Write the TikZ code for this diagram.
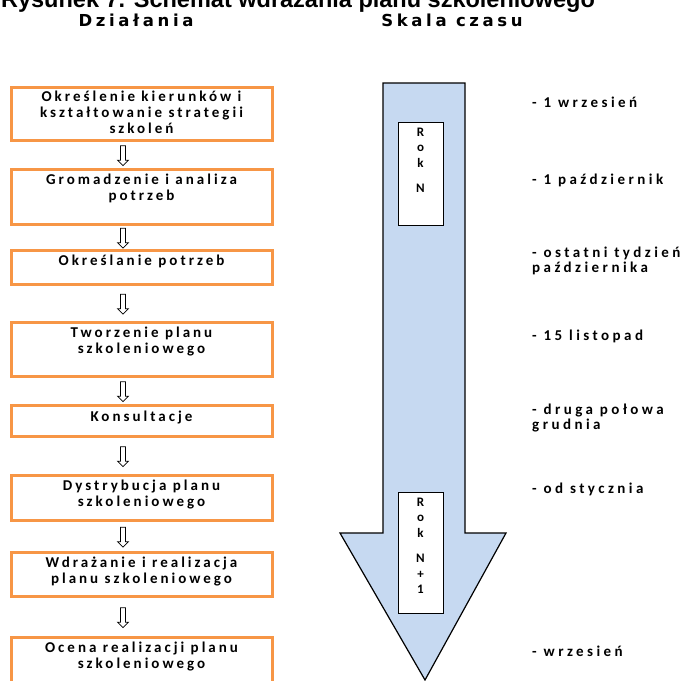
\documentclass[tikz,border=0pt]{standalone}
\usepackage{fontspec}
\setmainfont{Carlito}
\newfontfamily\boxfont[LetterSpace=20]{Carlito}
\newfontfamily\datefont[LetterSpace=23]{Carlito}
\newfontfamily\headfont[LetterSpace=22]{DejaVu Sans}
\newfontfamily\titlefont{Liberation Sans}
\usetikzlibrary{positioning,shapes.arrows,calc}
\definecolor{boxorange}{HTML}{F79646}
\definecolor{timeblue}{HTML}{C6D9F1}
\begin{document}
\begin{tikzpicture}[x=1pt,y=-1pt,
		box/.style={draw=boxorange,line width=3pt,fill=white,minimum width=261pt,inner sep=0},
		txt/.style={align=center,inner sep=0,font=\boxfont\bfseries\fontsize{15}{16}\selectfont},
		down/.style={single arrow,draw,line width=0.7pt,shape border rotate=270,inner sep=2pt,
			minimum height=20pt,minimum width=11pt,single arrow head extend=3pt},
		date/.style={align=left,anchor=north west,inner sep=0,font=\datefont\bfseries\fontsize{15}{15}\selectfont},
		rok/.style={draw,line width=1pt,fill=white,minimum width=45pt,inner sep=0},
		letters/.style={align=center,inner sep=0,font=\boxfont\bfseries\fontsize{13}{15.5}\selectfont}]
		\useasboundingbox (0,0) rectangle (682,680);
		\node[anchor=base,inner sep=0,font=\titlefont\bfseries\fontsize{23.5}{26}\selectfont] (title) at (298,7) {Rysunek 7. Schemat wdrażania planu szkoleniowego};
		\node[anchor=base,inner sep=0,font=\headfont\bfseries\fontsize{16.5}{18}\selectfont] (dz) at (136,26) {Działania};
		\node[anchor=base,inner sep=0,font=\headfont\bfseries\fontsize{16.5}{18}\selectfont] (sk) at (452,26) {Skala czasu};
		% działania
		\node[box,minimum height=53pt] (b1) at (141.5,113.5) {};
		\node[box,minimum height=55pt] (b2) at (141.5,196.5) {};
		\node[box,minimum height=34pt] (b3) at (141.5,267) {};
		\node[box,minimum height=54pt] (b4) at (141.5,349) {};
		\node[box,minimum height=31pt] (b5) at (141.5,420.5) {};
		\node[box,minimum height=45pt] (b6) at (141.5,497.5) {};
		\node[box,minimum height=44pt] (b7) at (141.5,574) {};
		\node[box,minimum height=53pt] (b8) at (141.5,663.5) {};
		\node[txt,below=5pt of b1.north] (t1) {Określenie kierunków i\\kształtowanie strategii\\szkoleń};
		\node[txt,below=6pt of b2.north] (t2) {Gromadzenie i analiza\\potrzeb};
		\node[txt,below=6pt of b3.north] (t3) {Określanie potrzeb};
		\node[txt,below=6pt of b4.north] (t4) {Tworzenie planu\\szkoleniowego};
		\node[txt,below=7pt of b5.north] (t5) {Konsultacje};
		\node[txt,below=6pt of b6.north] (t6) {Dystrybucja planu\\szkoleniowego};
		\node[txt,below=6pt of b7.north] (t7) {Wdrażanie i realizacja\\planu szkoleniowego};
		\node[txt,below=6pt of b8.north] (t8) {Ocena realizacji planu\\szkoleniowego};
		\foreach \i [evaluate=\i as \j using int(\i+1)] in {1,...,7}
			\node[down] (a\i) at ($(b\i.south)!0.5!(b\j.north)+(-18.5,0)$) {};
		% skala czasu
		\draw[fill=timeblue,line width=1.2pt] (383,83) -- (465,83) -- (465,533) -- (506,533)
			-- (425,680) -- (340,533) -- (383,533) -- cycle;
		\node[rok,minimum height=103pt] (r1) at (420.5,173.5) {};
		\node[rok,minimum height=121pt] (r2) at (420.5,552.5) {};
		\node[letters,below=6pt of r1.north] (l1) {R\\o\\k\\[10pt]N};
		\node[letters,below=6pt of r2.north] (l2) {R\\o\\k\\[10pt]N\\+\\1};
		\node[date] (d1) at (532,97) {- 1 wrzesień};
		\node[date] (d2) at (532,174) {- 1 październik};
		\node[date] (d3) at (532,247) {- ostatni tydzień\\października};
		\node[date] (d4) at (532,330) {- 15 listopad};
		\node[date] (d5) at (532,404) {- druga połowa\\grudnia};
		\node[date] (d6) at (532,483) {- od stycznia};
		\node[date] (d7) at (532,646) {- wrzesień};
	\end{tikzpicture}
\end{document}
